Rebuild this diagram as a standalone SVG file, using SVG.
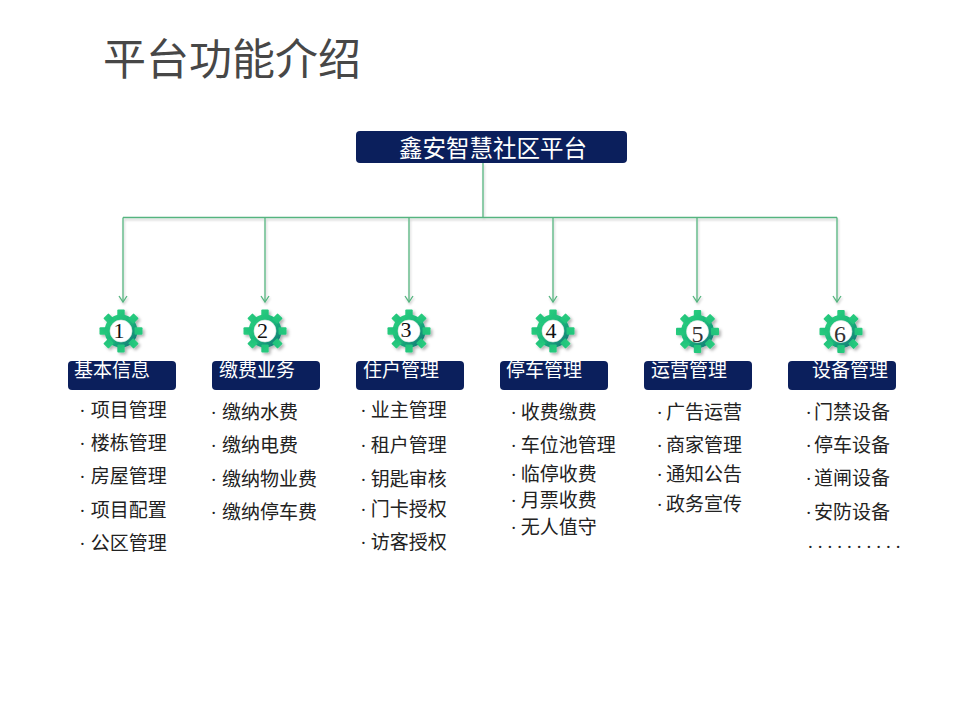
<svg xmlns="http://www.w3.org/2000/svg" width="960" height="720" viewBox="0 0 960 720">
<style>
.title{font-family:"Noto Sans CJK SC","Noto Sans",sans-serif;font-size:43px;fill:#474747}
.hdr{font-family:"Liberation Serif","Noto Sans CJK SC",serif;font-size:19px;fill:#ffffff}
.top{font-family:"Liberation Serif","Noto Sans CJK SC",serif;font-size:23.5px;fill:#ffffff}
.item{font-family:"Liberation Serif","Noto Sans CJK SC",serif;font-size:19px;fill:#222}
.num{font-family:"Liberation Serif","DejaVu Serif",serif;font-size:22px;fill:#111;text-anchor:middle}
.box{fill:#0b1f5c}
.conn{fill:none;stroke:#55b47f;stroke-width:1.3}
</style>
<defs>
<linearGradient id="gg" gradientUnits="userSpaceOnUse" x1="-18" y1="-18" x2="18" y2="18">
<stop offset="0" stop-color="#2dd67f"/>
<stop offset="0.5" stop-color="#1cb77a"/>
<stop offset="1" stop-color="#0c5e77"/>
</linearGradient>
<filter id="sh" x="-30%" y="-30%" width="160%" height="160%">
<feDropShadow dx="2" dy="2" stdDeviation="1.5" flood-color="#000" flood-opacity="0.3"/>
</filter>
<filter id="lsh" x="-5%" y="-50%" width="110%" height="300%">
<feDropShadow dx="1" dy="2" stdDeviation="1" flood-color="#000" flood-opacity="0.2"/>
</filter>
<marker id="arr" markerWidth="10" markerHeight="10" refX="8" refY="5" orient="auto" markerUnits="userSpaceOnUse" viewBox="0 0 10 10">
<path d="M2,1 L8,5 L2,9" fill="none" stroke="#55b47f" stroke-width="1.3"/>
</marker>
<g id="gear">
<g fill="url(#gg)">
<circle r="16.5"/>
<rect x="-3.7" y="-21.5" width="7.4" height="8" rx="1"/>
<rect x="-3.7" y="-21.5" width="7.4" height="8" rx="1" transform="rotate(45)"/>
<rect x="-3.7" y="-21.5" width="7.4" height="8" rx="1" transform="rotate(90)"/>
<rect x="-3.7" y="-21.5" width="7.4" height="8" rx="1" transform="rotate(135)"/>
<rect x="-3.7" y="-21.5" width="7.4" height="8" rx="1" transform="rotate(180)"/>
<rect x="-3.7" y="-21.5" width="7.4" height="8" rx="1" transform="rotate(225)"/>
<rect x="-3.7" y="-21.5" width="7.4" height="8" rx="1" transform="rotate(270)"/>
<rect x="-3.7" y="-21.5" width="7.4" height="8" rx="1" transform="rotate(315)"/>
</g>
<circle r="11" fill="#ffffff" stroke="#e2e6e4" stroke-width="0.6"/>
</g>
</defs>
<rect width="960" height="720" fill="#ffffff"/>
<text class="title" x="103" y="75">平台功能介绍</text>

<g id="connectors" filter="url(#lsh)">
<path class="conn" d="M483,163 V217.5"/>
<path class="conn" d="M123,217.5 H837"/>
<path class="conn" d="M123,217.5 V302" marker-end="url(#arr)"/>
<path class="conn" d="M265,217.5 V302" marker-end="url(#arr)"/>
<path class="conn" d="M409,217.5 V302" marker-end="url(#arr)"/>
<path class="conn" d="M553,217.5 V302" marker-end="url(#arr)"/>
<path class="conn" d="M697,217.5 V302" marker-end="url(#arr)"/>
<path class="conn" d="M837,217.5 V302" marker-end="url(#arr)"/>
</g>

<g id="root">
<rect class="box" x="356" y="131" width="271" height="32" rx="4"/>
<text class="top" x="399" y="157">鑫安智慧社区平台</text>
</g>

<g id="n1">
<use href="#gear" x="121" y="331" filter="url(#sh)"/>
<text class="num" x="119" y="338">1</text>
<rect class="box" x="68" y="361" width="108" height="29" rx="4"/>
<text class="hdr" x="74" y="377">基本信息</text>
<text class="item" x="79.3" y="417">·<tspan x="90.7">项目管理</tspan></text>
<text class="item" x="79.3" y="450">·<tspan x="90.7">楼栋管理</tspan></text>
<text class="item" x="79.3" y="483">·<tspan x="90.7">房屋管理</tspan></text>
<text class="item" x="79.3" y="517">·<tspan x="90.7">项目配置</tspan></text>
<text class="item" x="79.3" y="550">·<tspan x="90.7">公区管理</tspan></text>
</g>

<g id="n2">
<use href="#gear" x="265" y="331" filter="url(#sh)"/>
<text class="num" x="262.5" y="338">2</text>
<rect class="box" x="212" y="361" width="108" height="29" rx="4"/>
<text class="hdr" x="219" y="377">缴费业务</text>
<text class="item" x="210.6" y="418.5">·<tspan x="222">缴纳水费</tspan></text>
<text class="item" x="210.6" y="452">·<tspan x="222">缴纳电费</tspan></text>
<text class="item" x="210.6" y="485.5">·<tspan x="222">缴纳物业费</tspan></text>
<text class="item" x="210.6" y="518.5">·<tspan x="222">缴纳停车费</tspan></text>
</g>

<g id="n3">
<use href="#gear" x="409" y="331" filter="url(#sh)"/>
<text class="num" x="406" y="337">3</text>
<rect class="box" x="356" y="361" width="108" height="29" rx="4"/>
<text class="hdr" x="363" y="377">住户管理</text>
<text class="item" x="360.3" y="417">·<tspan x="370.7">业主管理</tspan></text>
<text class="item" x="360.3" y="452">·<tspan x="370.7">租户管理</tspan></text>
<text class="item" x="360.3" y="485.5">·<tspan x="370.7">钥匙审核</tspan></text>
<text class="item" x="360.3" y="516">·<tspan x="370.7">门卡授权</tspan></text>
<text class="item" x="360.3" y="548.5">·<tspan x="370.7">访客授权</tspan></text>
</g>

<g id="n4">
<use href="#gear" x="553" y="331" filter="url(#sh)"/>
<text class="num" x="551" y="338">4</text>
<rect class="box" x="500" y="361" width="108" height="29" rx="4"/>
<text class="hdr" x="506" y="377">停车管理</text>
<text class="item" x="510.6" y="418.5">·<tspan x="520.7">收费缴费</tspan></text>
<text class="item" x="510.6" y="452">·<tspan x="520.7">车位池管理</tspan></text>
<text class="item" x="510.6" y="480.5">·<tspan x="520.7">临停收费</tspan></text>
<text class="item" x="510.6" y="507">·<tspan x="520.7">月票收费</tspan></text>
<text class="item" x="510.6" y="533.5">·<tspan x="520.7">无人值守</tspan></text>
</g>

<g id="n5">
<use href="#gear" x="697.5" y="331.5" filter="url(#sh)"/>
<text class="num" x="697.5" y="342" style="font-size:24px;fill:#333">5</text>
<rect class="box" x="644" y="361" width="108" height="29" rx="4"/>
<text class="hdr" x="651" y="377">运营管理</text>
<text class="item" x="656.6" y="418.5">·<tspan x="666">广告运营</tspan></text>
<text class="item" x="656.6" y="452">·<tspan x="666">商家管理</tspan></text>
<text class="item" x="656.6" y="480.5">·<tspan x="666">通知公告</tspan></text>
<text class="item" x="656.6" y="510.5">·<tspan x="666">政务宣传</tspan></text>
</g>

<g id="n6">
<use href="#gear" x="841" y="331.5" filter="url(#sh)"/>
<text class="num" x="840" y="342" style="font-size:24px;fill:#333">6</text>
<rect class="box" x="788" y="361" width="108" height="29" rx="4"/>
<text class="hdr" x="812" y="377">设备管理</text>
<text class="item" x="805.6" y="418.5">·<tspan x="814">门禁设备</tspan></text>
<text class="item" x="805.6" y="452">·<tspan x="814">停车设备</tspan></text>
<text class="item" x="805.6" y="484.5">·<tspan x="814">道闸设备</tspan></text>
<text class="item" x="805.6" y="518.5">·<tspan x="814">安防设备</tspan></text>
<text class="item" x="808" y="548" letter-spacing="5">..........</text>
</g>
</svg>
